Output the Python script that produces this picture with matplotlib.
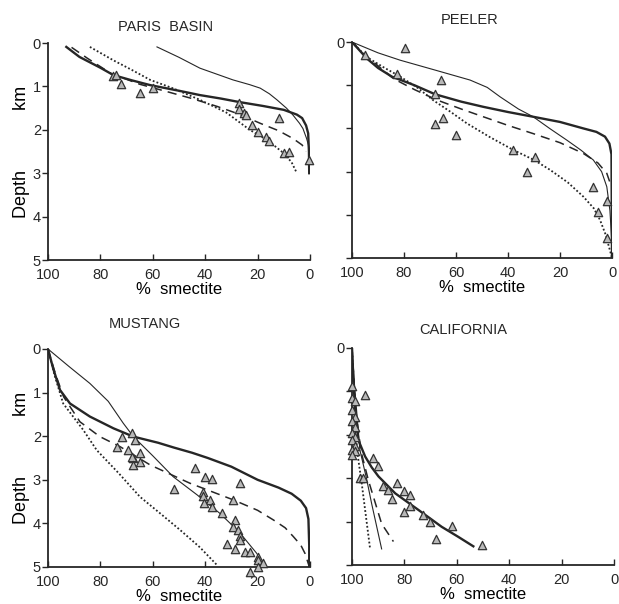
import matplotlib
matplotlib.use("Agg")
import matplotlib.pyplot as plt

# ---- data: (% smectite, depth km) ----
paris_thick_s = [93, 88, 80, 75, 68, 61, 50, 42, 34, 27, 18, 10, 5, 3, 1.5, 0.7, 0.4, 0.3]
paris_thick_d = [0.09, 0.32, 0.57, 0.74, 0.86, 0.97, 1.1, 1.2, 1.28, 1.36, 1.45, 1.54, 1.65, 1.73, 1.9, 2.08, 2.5, 3.0]
paris_thin_s = [58.4, 50, 42, 35, 29.4, 23, 19, 15.5, 12.6, 9, 6.5, 4, 2.7, 1.3, 0.6, 0.3]
paris_thin_d = [0.09, 0.33, 0.58, 0.73, 0.85, 0.96, 1.04, 1.17, 1.31, 1.5, 1.66, 1.85, 1.97, 2.2, 2.35, 2.6]
paris_dash_s = [91, 85, 76, 65, 54.6, 45, 35.5, 27, 19, 12, 6.5, 3, 1.5]
paris_dash_d = [0.1, 0.35, 0.7, 0.95, 1.12, 1.28, 1.46, 1.64, 1.85, 2.02, 2.2, 2.35, 2.5]
paris_dot_s = [84, 75, 68, 61, 52, 42, 32, 23, 16, 10, 7, 5]
paris_dot_d = [0.09, 0.4, 0.62, 0.85, 1.05, 1.31, 1.6, 2.0, 2.25, 2.54, 2.75, 3.0]
paris_obs_s = [75, 74, 72, 65, 60, 27, 27, 25, 24.5, 12, 22, 20, 16.6, 15.7, 10, 8, 0.3]
paris_obs_d = [0.76, 0.73, 0.94, 1.15, 1.04, 1.39, 1.52, 1.62, 1.66, 1.73, 1.89, 2.04, 2.16, 2.26, 2.53, 2.5, 2.7]

peeler_thick_s = [100, 97, 94.3, 90, 84.7, 76, 68, 58, 49.5, 40, 30.3, 20, 11, 6, 2.7, 1, 0.2, 0]
peeler_thick_d = [0, 0.2, 0.38, 0.6, 0.8, 1.0, 1.21, 1.38, 1.5, 1.62, 1.73, 1.85, 2.0, 2.08, 2.19, 2.35, 2.6, 5.0]
peeler_thin_s = [100, 90, 81.5, 68, 54.6, 48, 43, 36, 30.3, 24, 17.4, 12, 7.2, 4, 2, 0.8, 0.1, 0]
peeler_thin_d = [0, 0.25, 0.42, 0.65, 0.88, 1.05, 1.27, 1.55, 1.73, 2.0, 2.27, 2.5, 2.73, 3.0, 3.35, 3.9, 4.6, 5.0]
peeler_dash_s = [100, 96, 91, 84, 76, 67.4, 58, 49.5, 40, 30.3, 20, 11, 5.4, 2, 0.5]
peeler_dash_d = [0, 0.25, 0.5, 0.85, 1.1, 1.34, 1.55, 1.73, 1.93, 2.12, 2.33, 2.58, 2.8, 3.04, 3.3]
peeler_dot_s = [100, 94.3, 88, 81.5, 75, 68.7, 62, 55.9, 47, 37.9, 30, 23.8, 17, 11, 7, 4.6, 2.5, 0.8, 0]
peeler_dot_d = [0, 0.35, 0.58, 0.8, 1.05, 1.35, 1.62, 1.88, 2.2, 2.5, 2.73, 2.96, 3.25, 3.58, 3.85, 4.12, 4.45, 4.82, 5.0]
peeler_obs_s = [79.6, 95, 82.8, 65.8, 68, 64.9, 68, 60, 37.9, 29.6, 32.8, 7.4, 2, 5.5, 2]
peeler_obs_d = [0.13, 0.3, 0.74, 0.88, 1.2, 1.77, 1.9, 2.15, 2.5, 2.67, 3.02, 3.35, 3.67, 3.93, 4.54]

mustang_thick_s = [100, 98, 95.4, 91.6, 84, 75, 67.4, 58, 52, 45, 39, 30, 20, 12, 7, 3.5, 1.5, 0.6, 0.3, 0.3]
mustang_thick_d = [0, 0.45, 0.94, 1.25, 1.55, 1.82, 2.01, 2.15, 2.26, 2.38, 2.5, 2.7, 3.0, 3.18, 3.32, 3.48, 3.65, 3.9, 4.5, 5.0]
mustang_thin_s = [100, 92, 84, 77, 71.3, 67.4, 60, 52.2, 43, 34.4, 27, 20.3, 17.8]
mustang_thin_d = [0, 0.4, 0.79, 1.2, 1.7, 2.01, 2.45, 2.93, 3.35, 3.77, 4.2, 4.69, 4.95]
mustang_dash_s = [100, 97, 94, 87.8, 80.2, 72.5, 61, 45.8, 29.3, 20, 14, 9.5, 6.4, 3.5, 1.9, 0.5]
mustang_dash_d = [0, 0.6, 1.1, 1.67, 2.01, 2.24, 2.66, 3.08, 3.46, 3.7, 3.92, 4.1, 4.3, 4.5, 4.69, 4.95]
mustang_dot_s = [100, 97.5, 94.2, 86.5, 81.4, 73, 64.9, 57, 49.6, 42, 35.6]
mustang_dot_d = [0, 0.6, 1.25, 1.86, 2.32, 2.85, 3.39, 3.78, 4.15, 4.55, 4.95]
mustang_obs_s = [71.9, 68, 66.8, 73.8, 69.4, 64.9, 67.4, 68, 67.4, 64.9, 43.9, 40, 37.5, 26.7, 51.9,
                 40.7, 40.7, 38.2, 29.3, 40.3, 37.5, 33.7, 28.6, 29.3, 27.4, 26.7, 26.7, 31.8, 28.6,
                 24.8, 22.9, 19.7, 19.7, 17.8, 19.7, 22.9]
mustang_obs_d = [2.01, 1.93, 2.09, 2.24, 2.32, 2.39, 2.51, 2.47, 2.66, 2.59, 2.74, 2.93, 2.99, 3.08, 3.2,
                 3.27, 3.38, 3.46, 3.46, 3.54, 3.62, 3.77, 3.92, 4.08, 4.15, 4.3, 4.38, 4.47, 4.58,
                 4.65, 4.65, 4.76, 4.84, 4.92, 5.0, 5.12]

calif_thick_s = [100, 99.5, 98.9, 97.6, 95, 92.5, 89.9, 83.5, 74.7, 65.8, 59.5, 53.7]
calif_thick_d = [0, 0.7, 1.35, 2.12, 2.5, 2.75, 2.96, 3.35, 3.73, 4.12, 4.35, 4.57]
calif_thin_s = [100, 99, 97, 94.5, 92.5, 88.7]
calif_thin_d = [0, 0.9, 2.35, 3.0, 3.59, 4.63]
calif_dash_s = [100, 98.5, 96.5, 93.8, 88.7, 84.2]
calif_dash_d = [0, 1.5, 2.4, 3.04, 4.05, 4.46]
calif_dot_s = [100, 99.2, 98, 96.3, 93.1]
calif_dot_d = [0, 1.5, 2.4, 3.12, 4.63]
calif_obs_s = [100, 100, 99, 100, 99, 100, 99, 100, 99, 100, 99, 100, 99, 100, 94.9, 91.9, 90, 97.1, 95.8,
               88.1, 83, 86.3, 80.2, 78, 84.9, 78, 80.2, 72.9, 70.3, 62, 68.1, 50.4]
calif_obs_d = [0.88, 1.15, 1.23, 1.42, 1.58, 1.69, 1.81, 1.96, 2.04, 2.11, 2.25, 2.34, 2.38, 2.46, 1.08,
               2.53, 2.73, 3.0, 3.0, 3.19, 3.1, 3.27, 3.3, 3.38, 3.48, 3.65, 3.77, 3.84, 4.02, 4.11,
               4.4, 4.55]

panels = [
    ("PARIS  BASIN", [0.0775, 0.5695, 0.4233, 0.3593], (0.447, 1.072), True,
     (paris_thick_s, paris_thick_d), (paris_thin_s, paris_thin_d),
     (paris_dash_s, paris_dash_d), (paris_dot_s, paris_dot_d), (paris_obs_s, paris_obs_d)),
    ("PEELER", [0.5687, 0.5728, 0.4200, 0.3576], (0.454, 1.10), False,
     (peeler_thick_s, peeler_thick_d), (peeler_thin_s, peeler_thin_d),
     (peeler_dash_s, peeler_dash_d), (peeler_dot_s, peeler_dot_d), (peeler_obs_s, peeler_obs_d)),
    ("MUSTANG", [0.0775, 0.0613, 0.4233, 0.3609], (0.37, 1.115), True,
     (mustang_thick_s, mustang_thick_d), (mustang_thin_s, mustang_thin_d),
     (mustang_dash_s, mustang_dash_d), (mustang_dot_s, mustang_dot_d), (mustang_obs_s, mustang_obs_d)),
    ("CALIFORNIA", [0.5687, 0.0646, 0.4233, 0.3593], (0.424, 1.083), False,
     (calif_thick_s, calif_thick_d), (calif_thin_s, calif_thin_d),
     (calif_dash_s, calif_dash_d), (calif_dot_s, calif_dot_d), (calif_obs_s, calif_obs_d)),
]

ink = "#262626"
plt.rcParams["font.family"] = ["Liberation Sans", "DejaVu Sans"]

fig = plt.figure(figsize=(6.19, 6.04), dpi=100)

for title, rect, tpos, left_col, thick, thin, dash, dot, obs in panels:
    ax = fig.add_axes(rect)
    ax.plot(*thin, color=ink, lw=0.8)
    ax.plot(*dot, color=ink, lw=1.3, linestyle=(0, (1, 1.2)))
    ax.plot(*dash, color=ink, lw=1.1, linestyle=(0, (6, 4)))
    ax.plot(*thick, color=ink, lw=1.7)
    ax.scatter(*obs, marker="^", s=36, facecolor="#b8b8b8", edgecolor="#333333",
               linewidth=0.9, zorder=5, clip_on=False)

    ax.set_xlim(100, 0)
    ax.set_ylim(5, 0)
    ax.set_xticks([100, 80, 60, 40, 20, 0])
    ax.set_yticks([0, 1, 2, 3, 4, 5])
    if left_col:
        ax.set_ylabel("Depth            km", fontsize=13, labelpad=2)
    else:
        ax.set_yticklabels(["0", "", "", "", "", ""])
    ax.set_xlabel("%  smectite", fontsize=12, labelpad=0)
    ax.tick_params(axis="y", direction="out", length=4, width=1, labelsize=10.5, pad=1, colors=ink)
    ax.tick_params(axis="x", direction="in", length=4, width=1, labelsize=10.5, pad=6, colors=ink)
    for side in ("top", "right"):
        ax.spines[side].set_visible(False)
    for side in ("left", "bottom"):
        ax.spines[side].set_linewidth(1.3)
        ax.spines[side].set_color(ink)
    ax.text(tpos[0], tpos[1], title, transform=ax.transAxes, ha="center", va="center",
            fontsize=10.5, color=ink)

fig.savefig("out.png", dpi=100)
